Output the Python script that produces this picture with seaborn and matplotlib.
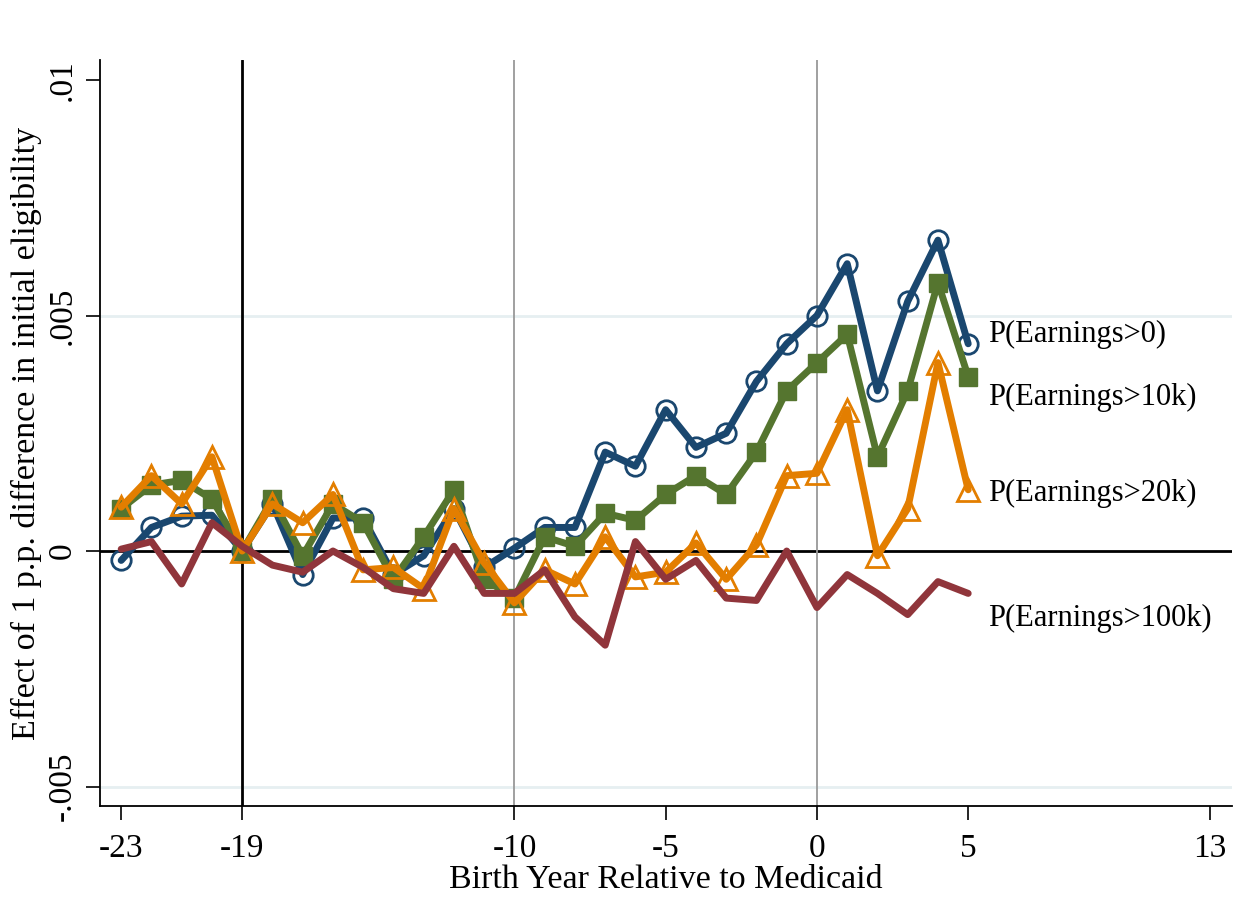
import matplotlib
matplotlib.use("Agg")
import matplotlib.pyplot as plt
import seaborn as sns
import pandas as pd
import numpy as np

years = list(range(-23, 6))
earn0 = [-0.0002, 0.0005, 0.00074, 0.00076, 0.0, 0.001, -0.0005, 0.0007, 0.0007, -0.0005,
         -0.0001, 0.0009, -0.00035, 0.00006, 0.0005, 0.0005, 0.0021, 0.0018, 0.003, 0.0022,
         0.0025, 0.0036, 0.0044, 0.005, 0.0061, 0.0034, 0.0053, 0.0066, 0.0044]
earn10k = [0.0009, 0.0014, 0.0015, 0.0011, 0.0, 0.0011, -0.0001, 0.001, 0.0006, -0.0006,
           0.0003, 0.0013, -0.0006, -0.001, 0.0003, 0.0001, 0.0008, 0.00065, 0.0012, 0.0016,
           0.0012, 0.0021, 0.0034, 0.004, 0.0046, 0.002, 0.0034, 0.0057, 0.0037]
earn20k = [0.00093, 0.0016, 0.001, 0.002, 0.0, 0.001, 0.0006, 0.0012, -0.0004, -0.00035,
           -0.0008, 0.0009, -0.00025, -0.0011, -0.0004, -0.0007, 0.0003, -0.00055, -0.00045, 0.00017,
           -0.0006, 0.00013, 0.0016, 0.00165, 0.003, -0.0001, 0.0009, 0.004, 0.0013]
earn100k = [0.00004, 0.0002, -0.0007, 0.0006, 0.0001, -0.0003, -0.00045, 0.0, -0.00035, -0.0008,
            -0.0009, 0.0001, -0.0009, -0.0009, -0.0004, -0.0014, -0.002, 0.0002, -0.0006, -0.0002,
            -0.001, -0.00105, 0.0, -0.0012, -0.0005, -0.0009, -0.00135, -0.00065, -0.0009]

series_names = ["P(Earnings>0)", "P(Earnings>10k)", "P(Earnings>20k)", "P(Earnings>100k)"]
label_y = [0.0046, 0.00325, 0.00123, -0.00144]
xticks = [-23, -19, -10, -5, 0, 5, 13]
yticks = [-0.005, 0, 0.005, 0.01]
ytick_labels = ["-.005", "0", ".005", ".01"]

sns.set_style("white")
plt.rcParams['font.family'] = ['Liberation Serif', 'DejaVu Serif']
plt.rcParams['text.color'] = 'black'
plt.rcParams['axes.labelcolor'] = 'black'
plt.rcParams['xtick.color'] = 'black'
plt.rcParams['ytick.color'] = 'black'

fig = plt.figure(figsize=(12.37, 9), dpi=100)
ax = fig.add_axes([100/1237, 94/900, 1132/1237, 746/900])

# reference lines and grid
for yv in [-0.005, 0.005]:
    ax.axhline(yv, color="#e6eff1", lw=2, zorder=0)
ax.axhline(0, color="black", lw=2, zorder=1)
ax.axvline(-19, color="black", lw=2, zorder=1)
ax.axvline(-10, color="#999999", lw=1.3, zorder=1)
ax.axvline(0, color="#999999", lw=1.3, zorder=1)

df = pd.DataFrame({"year": years, "e0": earn0, "e10": earn10k, "e20": earn20k, "e100": earn100k})

lw = 5.0
sns.lineplot(data=df, x="year", y="e0", ax=ax, color="#1a476f", lw=lw, marker="o",
             markersize=14, markerfacecolor="none", markeredgecolor="#1a476f",
             markeredgewidth=2, zorder=3)
sns.lineplot(data=df, x="year", y="e10", ax=ax, color="#55752f", lw=lw, marker="s",
             markersize=13, markerfacecolor="#55752f", markeredgecolor="#55752f",
             markeredgewidth=1, zorder=4)
sns.lineplot(data=df, x="year", y="e20", ax=ax, color="#e37e00", lw=lw, marker="^",
             markersize=16, markerfacecolor="none", markeredgecolor="#e37e00",
             markeredgewidth=2, zorder=5)
sns.lineplot(data=df, x="year", y="e100", ax=ax, color="#90353b", lw=lw, zorder=6)

for name, yv in zip(series_names, label_y):
    ax.text(5.65, yv, name, fontsize=22, va="center", ha="left", color="black")

ax.set_xlim(-23.7, 13.72)
ax.set_ylim(-0.005414, 0.010425)
ax.set_xticks(xticks)
ax.set_xticklabels([str(t) for t in xticks], fontsize=24)
ax.set_yticks(yticks)
ax.set_yticklabels(ytick_labels, fontsize=24, rotation=90, va="center")
ax.tick_params(axis="both", direction="out", length=10, width=1.2, color="black")
ax.tick_params(axis="x", bottom=True, pad=10)
ax.tick_params(axis="y", left=True, pad=6)

ax.set_xlabel("Birth Year Relative to Medicaid", fontsize=24.5, labelpad=0)
ax.set_ylabel("Effect of 1 p.p. difference in initial eligibility", fontsize=24.5, labelpad=4)

for s in ["top", "right"]:
    ax.spines[s].set_visible(False)
for s in ["left", "bottom"]:
    ax.spines[s].set_color("black")
    ax.spines[s].set_linewidth(1.3)

fig.savefig("out.png", dpi=100)
